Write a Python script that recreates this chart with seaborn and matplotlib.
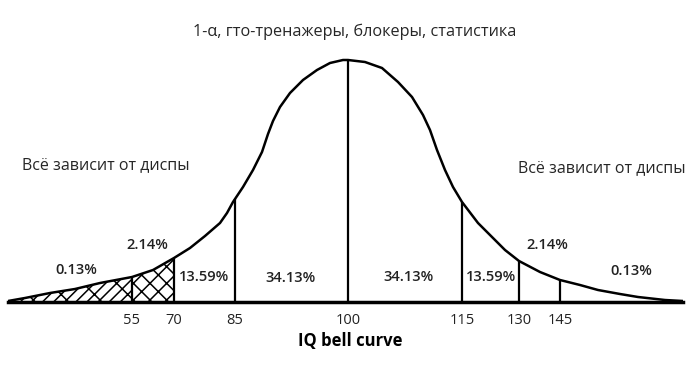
import matplotlib
matplotlib.use("Agg")
import matplotlib.pyplot as plt
import numpy as np
import pandas as pd
import seaborn as sns

# hand-drawn bell curve: position along the baseline and height above it
curve_pos = [8, 25, 50, 75, 100, 132, 153, 174, 190, 205, 220, 227, 233, 243,
             253, 262, 268, 273, 280, 290, 303, 317, 330, 343, 348, 365, 382,
             398, 412, 423, 430, 437, 445, 453, 462, 478, 495, 505, 519, 540,
             560, 580, 598, 620, 638, 665, 683]
curve_height = [1, 4, 9, 13, 19, 25, 32, 44, 54, 66, 79, 89, 100, 115,
                132, 150, 168, 181, 195, 209, 222, 232, 239, 242, 242, 240, 234,
                220, 205, 187, 172, 152, 132, 115, 100, 79, 62, 52, 41, 30,
                22, 17, 12, 8, 5, 2, 1]

iq_scores = [55, 70, 85, 100, 115, 130, 145]
iq_pos = [132, 174, 235, 348, 462, 519, 560]

shares = ["0.13%", "2.14%", "13.59%", "34.13%", "34.13%", "13.59%", "2.14%", "0.13%"]
share_pos = [(76, 32), (147, 57), (204, 25), (291, 24), (408, 25), (491, 25), (547, 57), (631, 31)]

title = "1-α, гто-тренажеры, блокеры, статистика"
side_note = "Всё зависит от диспы"
xlabel = "IQ bell curve"

sns.set_theme(style="white")
plt.rcParams["font.family"] = ["Open Sans", "DejaVu Sans"]
plt.rcParams["hatch.linewidth"] = 1.1

fig = plt.figure(figsize=(7, 3.71), dpi=100)
ax = fig.add_axes([8 / 700, 69 / 371, 675 / 700, 302 / 371])

df = pd.DataFrame({"pos": curve_pos, "height": curve_height})
sns.lineplot(data=df, x="pos", y="height", ax=ax, color="black", linewidth=1.8, sort=False)

# hatched left tail: single hatch below 55, cross hatch 55-70
pos_arr = np.array(curve_pos)
tail = np.append(pos_arr[pos_arr < iq_pos[0]], iq_pos[0])
ax.fill_between(tail, 0, np.interp(tail, curve_pos, curve_height),
                facecolor="none", edgecolor="black", hatch="///\\", linewidth=0)
mid = np.concatenate([[iq_pos[0]], pos_arr[(pos_arr > iq_pos[0]) & (pos_arr < iq_pos[1])], [iq_pos[1]]])
ax.fill_between(mid, 0, np.interp(mid, curve_pos, curve_height),
                facecolor="none", edgecolor="black", hatch="xx", linewidth=0)

ax.vlines(iq_pos, 0, np.interp(iq_pos, curve_pos, curve_height), color="black", linewidth=1.6)

for label, (x, y) in zip(shares, share_pos):
    ax.text(x, y, label, ha="center", va="center", fontsize=10.5, fontweight="semibold",
            color="#222222")

ax.set_xlim(8, 683)
ax.set_ylim(0, 302)
ax.set_xticks(iq_pos)
ax.set_xticklabels([str(v) for v in iq_scores], fontsize=10.5, fontweight="medium", color="#222222")
ax.tick_params(axis="x", length=0, pad=8)
ax.set_yticks([])
ax.set_ylabel("")
ax.set_xlabel(xlabel, fontsize=12, fontweight="bold", labelpad=0, color="black")
ax.xaxis.set_label_coords((350 - 8) / 675, -0.098)
for side in ["top", "left", "right"]:
    ax.spines[side].set_visible(False)
ax.spines["bottom"].set_linewidth(2.5)
ax.spines["bottom"].set_color("black")
ax.patch.set_alpha(0)

fig.text(355 / 700, 1 - 32 / 371, title, ha="center", va="center", fontsize=11.7)
fig.text(22 / 700, 1 - 165 / 371, side_note, ha="left", va="center", fontsize=11.5)
fig.text(518 / 700, 1 - 168 / 371, side_note, ha="left", va="center", fontsize=11.5)

fig.savefig("out.png", dpi=100, facecolor="white")
